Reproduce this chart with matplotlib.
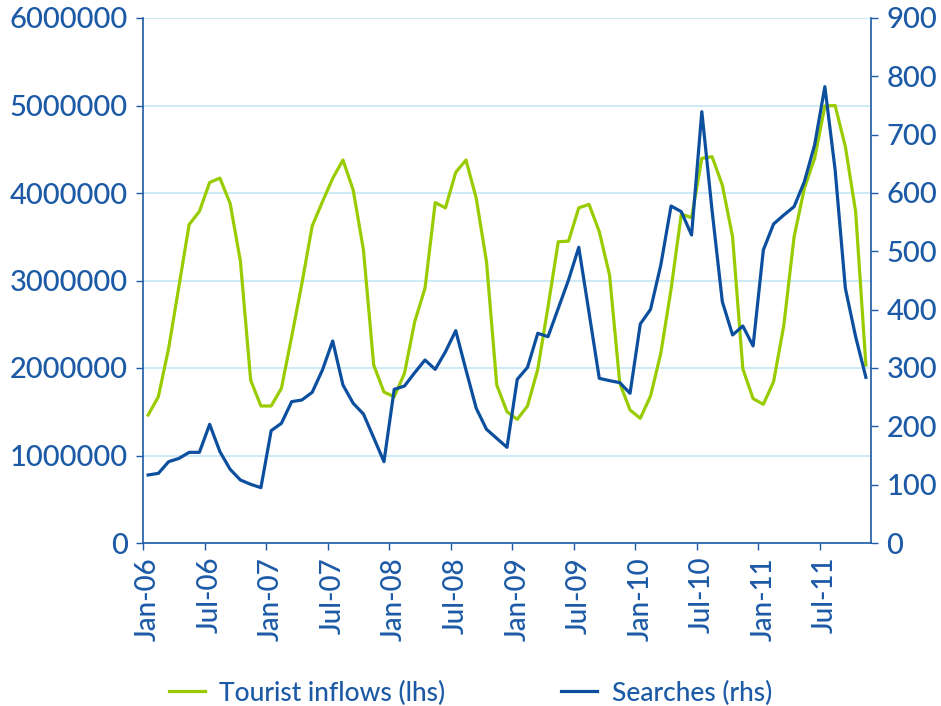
import matplotlib
matplotlib.use('Agg')
import matplotlib.pyplot as plt
import numpy as np

# monthly data, Jan-06 .. Nov-11
months = ['Jan', 'Feb', 'Mar', 'Apr', 'May', 'Jun',
          'Jul', 'Aug', 'Sep', 'Oct', 'Nov', 'Dec']
dates = [f'{m}-{y:02d}' for y in range(6, 12) for m in months][:71]

# tourist inflows, millions (lhs)
tourist_inflows = [
    1.463, 1.672, 2.225, 2.93, 3.64, 3.79, 4.12, 4.17, 3.88, 3.22, 1.86, 1.566,
    1.566, 1.768, 2.358, 2.968, 3.623, 3.90, 4.167, 4.377, 4.034, 3.349, 2.034, 1.725,
    1.672, 1.939, 2.53, 2.91, 3.89, 3.83, 4.236, 4.377, 3.94, 3.215, 1.806, 1.50,
    1.413, 1.566, 1.985, 2.7, 3.443, 3.45, 3.83, 3.87, 3.558, 3.063, 1.825, 1.52,
    1.425, 1.68, 2.168, 2.9, 3.76, 3.718, 4.396, 4.415, 4.09, 3.50, 1.99, 1.65,
    1.585, 1.844, 2.49, 3.50, 4.053, 4.396, 4.994, 5.0, 4.53, 3.787, 2.034]

# searches (rhs)
searches = [
    116.6, 119.4, 139.4, 145, 155.4, 155.4, 203.4, 156.6, 126.3, 108, 100.6, 94.9,
    192.6, 205.2, 242.3, 245.2, 258.3, 296.6, 346.3, 270.9, 239.5, 221.1, 180.5, 139.4,
    263.4, 269.1, 292, 313.7, 297.7, 328, 364, 296.6, 230.9, 194.9, 179.4, 164,
    280.6, 301.1, 359.5, 353.7, 402.3, 450.9, 506.9, 395, 282.3, 278.3, 274.9, 256.6,
    375.4, 400.6, 476.6, 577.7, 568, 528, 739.4, 570, 413.7, 356.6, 372, 337.7,
    502.3, 546.9, 562.3, 576.6, 619.4, 682.3, 782.3, 640, 436.6, 353.7, 284]

left_ticks = np.arange(0, 6000001, 1000000)
right_ticks = np.arange(0, 901, 100)

green = '#99CC00'
blue = '#0B4F9E'
text_blue = '#1C5AA6'
grid_col = '#C4E7F6'

plt.rcParams['font.family'] = ['Lato', 'DejaVu Sans']
plt.rcParams['font.weight'] = 'medium'

fig = plt.figure(figsize=(9.41, 7.06), dpi=100)
ax1 = fig.add_axes([143 / 941, 1 - 543 / 706, 728 / 941, 525 / 706])
ax2 = ax1.twinx()

x = np.arange(len(dates))
ax1.plot(x, np.array(tourist_inflows) * 1e6, color=green, lw=2.3,
         label='Tourist inflows (lhs)')
ax2.plot(x, searches, color=blue, lw=2.3, label='Searches (rhs)')

ax1.set_xlim(-0.5, len(dates) - 0.5)
ax1.set_ylim(0, 6000000)
ax2.set_ylim(0, 900)

ax1.set_yticks(left_ticks)
ax1.set_yticklabels([str(int(v)) for v in left_ticks])
ax2.set_yticks(right_ticks)
ax2.set_yticklabels([str(int(v)) for v in right_ticks])

ax1.set_xticks(x[::6])
ax1.set_xticklabels(dates[::6], rotation=90)
ax1.set_xticks(np.arange(-0.5, len(dates), 6), minor=True)

ax1.yaxis.grid(True, color=grid_col, lw=1.2)
ax1.set_axisbelow(True)

for ax in (ax1, ax2):
    ax.spines['top'].set_visible(False)
    for side in ('left', 'right', 'bottom'):
        ax.spines[side].set_color(text_blue)
        ax.spines[side].set_linewidth(1.2)
    ax.tick_params(axis='y', colors=text_blue, labelsize=21, length=5, width=1)
ax2.spines['left'].set_visible(False)
ax1.spines['right'].set_visible(False)
ax2.spines['bottom'].set_visible(False)

ax1.tick_params(axis='x', which='major', length=0, colors=text_blue,
                labelsize=20, pad=10)
ax1.tick_params(axis='x', which='minor', length=5, width=1, color=text_blue)
ax1.tick_params(axis='y', pad=6)
ax2.tick_params(axis='y', pad=6)

h1, l1 = ax1.get_legend_handles_labels()
h2, l2 = ax2.get_legend_handles_labels()
leg = fig.legend(h1 + h2, l1 + l2, loc='center', ncol=2,
                 bbox_to_anchor=(0.5, 1 - 693 / 706), frameon=False,
                 fontsize=19, handlelength=1.35, handletextpad=0.55,
                 columnspacing=4.4)
for t in leg.get_texts():
    t.set_color(text_blue)

plt.savefig('out.png', dpi=100)
